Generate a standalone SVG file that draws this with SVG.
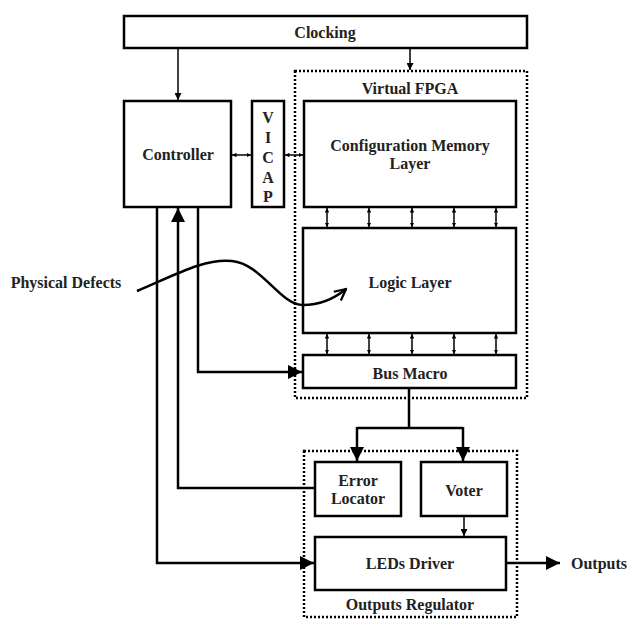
<svg xmlns="http://www.w3.org/2000/svg" width="627" height="619" viewBox="0 0 627 619">
<defs>
<style>
.box{fill:#fff;stroke:#000;stroke-width:2.5}
.dot{fill:none;stroke:#000;stroke-width:2.5;stroke-dasharray:2 2}
.ln{fill:none;stroke:#000;stroke-width:2.5}
.thin{fill:none;stroke:#000;stroke-width:1.5}
text{font-family:"Liberation Serif","Times New Roman",serif;font-weight:bold;font-size:16px;fill:#222;text-anchor:middle}
</style>
<marker id="ah" viewBox="0 0 10 10" refX="10" refY="5" markerWidth="4.5" markerHeight="4.5" orient="auto-start-reverse" markerUnits="userSpaceOnUse">
<path d="M0,0 L10,5 L0,10 z" fill="#000"/>
</marker>
<marker id="big" viewBox="0 0 10 10" refX="10" refY="5" markerWidth="14" markerHeight="14" orient="auto" markerUnits="userSpaceOnUse">
<path d="M0,0 L10,5 L0,10 z" fill="#000"/>
</marker>
<marker id="sm" viewBox="0 0 10 10" refX="10" refY="5" markerWidth="7" markerHeight="7" orient="auto-start-reverse" markerUnits="userSpaceOnUse">
<path d="M0,0 L10,5 L0,10 z" fill="#000"/>
</marker>
<marker id="open" viewBox="0 0 10 10" refX="9" refY="5" markerWidth="14" markerHeight="14" orient="auto" markerUnits="userSpaceOnUse">
<path d="M1,1 L9,5 L1,9" fill="none" stroke="#000" stroke-width="1.6"/>
</marker>
</defs>
<rect width="627" height="619" fill="#fff"/>

<g id="virtual-fpga">
<rect class="dot" x="295" y="71" width="232" height="327"/>
<text x="410" y="94">Virtual FPGA</text>
</g>
<g id="outputs-regulator">
<rect class="dot" x="304" y="451" width="213" height="166"/>
<text x="410" y="610">Outputs Regulator</text>
</g>

<g id="clocking">
<rect class="box" x="124" y="16" width="403" height="32"/>
<text x="325" y="38">Clocking</text>
</g>
<g id="controller">
<rect class="box" x="124" y="101" width="107" height="106"/>
<text x="178" y="160">Controller</text>
</g>
<g id="vicap">
<rect class="box" x="252" y="101" width="32" height="106"/>
<text x="268" y="123">V</text>
<text x="268" y="143">I</text>
<text x="268" y="163">C</text>
<text x="268" y="183">A</text>
<text x="268" y="202">P</text>
</g>
<g id="config-memory">
<rect class="box" x="304" y="101" width="212" height="106"/>
<text x="410" y="151">Configuration  Memory</text>
<text x="410" y="169">Layer</text>
</g>
<g id="logic-layer">
<rect class="box" x="303" y="228" width="213" height="105"/>
<text x="410" y="288">Logic Layer</text>
</g>
<g id="bus-macro">
<rect class="box" x="303" y="355" width="213" height="33"/>
<text x="410" y="379">Bus Macro</text>
</g>
<g id="error-locator">
<rect class="box" x="315" y="462" width="86" height="54"/>
<text x="358" y="486">Error</text>
<text x="358" y="504">Locator</text>
</g>
<g id="voter">
<rect class="box" x="421" y="462" width="86" height="54"/>
<text x="464" y="496">Voter</text>
</g>
<g id="leds-driver">
<rect class="box" x="315" y="537" width="191" height="53"/>
<text x="410" y="569">LEDs Driver</text>
</g>
<g id="physical-defects">
<text x="66" y="288">Physical Defects</text>
</g>
<g id="outputs">
<text x="599" y="569">Outputs</text>
</g>

<g id="connectors">
<line class="thin" x1="178" y1="48" x2="178" y2="100" marker-end="url(#sm)"/>
<line class="thin" x1="410" y1="48" x2="410" y2="70" marker-end="url(#sm)"/>
<line class="thin" x1="232" y1="155" x2="251" y2="155" marker-start="url(#ah)" marker-end="url(#ah)"/>
<line class="thin" x1="285" y1="155" x2="303" y2="155" marker-start="url(#ah)" marker-end="url(#ah)"/>
<g>
<line class="thin" x1="327" y1="208" x2="327" y2="227" marker-start="url(#ah)" marker-end="url(#ah)"/>
<line class="thin" x1="369" y1="208" x2="369" y2="227" marker-start="url(#ah)" marker-end="url(#ah)"/>
<line class="thin" x1="412" y1="208" x2="412" y2="227" marker-start="url(#ah)" marker-end="url(#ah)"/>
<line class="thin" x1="454" y1="208" x2="454" y2="227" marker-start="url(#ah)" marker-end="url(#ah)"/>
<line class="thin" x1="496" y1="208" x2="496" y2="227" marker-start="url(#ah)" marker-end="url(#ah)"/>
<line class="thin" x1="327" y1="334" x2="327" y2="354" marker-start="url(#ah)" marker-end="url(#ah)"/>
<line class="thin" x1="369" y1="334" x2="369" y2="354" marker-start="url(#ah)" marker-end="url(#ah)"/>
<line class="thin" x1="412" y1="334" x2="412" y2="354" marker-start="url(#ah)" marker-end="url(#ah)"/>
<line class="thin" x1="454" y1="334" x2="454" y2="354" marker-start="url(#ah)" marker-end="url(#ah)"/>
<line class="thin" x1="496" y1="334" x2="496" y2="354" marker-start="url(#ah)" marker-end="url(#ah)"/>
</g>
<polyline class="ln" points="198,207 198,372 302,372" marker-end="url(#big)"/>
<polyline class="ln" points="314,488 178,488 178,208" marker-end="url(#big)"/>
<polyline class="ln" points="157,207 157,563 314,563" marker-end="url(#big)"/>
<polyline class="ln" points="409,388 409,428"/>
<polyline class="ln" points="357,428 463,428"/>
<line class="ln" x1="357" y1="427" x2="357" y2="461" marker-end="url(#big)"/>
<line class="ln" x1="463" y1="427" x2="463" y2="461" marker-end="url(#big)"/>
<line class="thin" x1="464" y1="516" x2="464" y2="536" marker-end="url(#sm)"/>
<line class="ln" x1="506" y1="563" x2="560" y2="563" marker-end="url(#big)"/>
<path class="ln" d="M137,291 C175,275 205,258 232,261 C262,264 280,305 303,305 C320,305 335,298 346,289" marker-end="url(#open)"/>
</g>
</svg>
